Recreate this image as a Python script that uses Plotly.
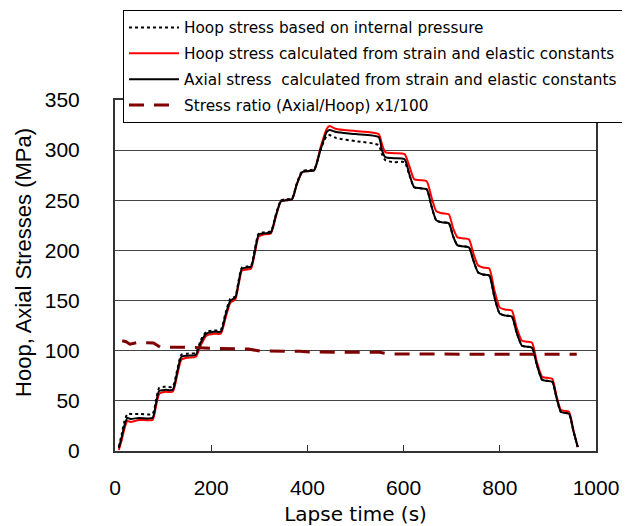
import plotly.graph_objects as go

# ---------------- data ----------------
time_s = [8, 14, 20, 26, 32, 50, 78,
          85, 92, 105, 120,
          129, 138, 150, 168,
          178, 190, 205, 220,
          230, 240, 250,
          257, 264, 275, 283,
          291, 299, 310, 324,
          334, 345, 355, 368,
          378, 389, 400, 414,
          427, 440, 446, 460, 500, 548,
          555, 562, 580, 602,
          612, 622, 635, 648,
          658, 668, 680, 694,
          703, 712, 725, 736,
          745, 755, 765, 778,
          789, 800, 812, 825,
          835, 846, 856, 867,
          877, 888, 898, 909,
          918, 927, 935, 944,
          953, 962]

hoop_pressure = [4, 17, 30, 37, 37, 37, 37,
                 50, 63, 64, 64,
                 80, 96, 97, 98,
                 110, 119, 120, 121,
                 138, 152, 154,
                 170, 183, 184, 185,
                 202, 217, 218, 219,
                 235, 250, 251, 252,
                 267, 279, 280, 281,
                 300, 314, 315, 312, 309, 305,
                 296, 290, 288, 288,
                 275, 263, 262, 261,
                 244, 230, 228, 227,
                 214, 205, 204, 203,
                 190, 178, 176, 175,
                 153, 137, 135, 134,
                 118, 105, 104, 103,
                 86, 71, 70, 69,
                 53, 39, 38, 37,
                 20, 4]

hoop_calc = [1, 11, 23, 30, 29, 31, 31,
             44, 57, 59, 59,
             75, 91, 93, 94,
             105, 115, 117, 117,
             133, 148, 151,
             166, 180, 181, 182,
             198, 214, 216, 217,
             233, 249, 250, 251,
             266, 278, 279, 280,
             302, 321, 324, 321, 319, 316,
             306, 298, 297, 296,
             284, 271, 270, 269,
             253, 239, 237, 236,
             222, 213, 212, 211,
             197, 185, 183, 182,
             160, 143, 141, 140,
             123, 110, 109, 108,
             89, 74, 73, 72,
             55, 41, 40, 39,
             21, 4]

axial_calc = [3, 14, 26, 33, 32, 33, 33,
              47, 60, 61, 61,
              78, 94, 95, 96,
              108, 117, 119, 119,
              136, 150, 153,
              168, 182, 183, 184,
              200, 216, 217, 218,
              234, 249, 250, 251,
              266, 278, 279, 280,
              300, 318, 320, 318, 316, 313,
              300, 293, 292, 291,
              276, 263, 262, 261,
              244, 230, 228, 227,
              214, 205, 204, 203,
              190, 178, 176, 175,
              153, 137, 135, 134,
              118, 105, 104, 103,
              86, 71, 70, 69,
              53, 39, 38, 37,
              20, 4]

ratio_time = [15, 23, 31, 45, 56, 80, 94, 129, 162, 197, 218, 249, 277, 301, 329,
              350, 385, 404, 439, 460, 495, 515, 550, 571, 599, 627, 654, 682, 710,
              738, 766, 793, 821, 848, 869, 904, 932, 960]
ratio_x100 = [110, 109, 106.5, 108, 108, 107.7, 103.5, 103.4, 103.4, 102.4, 102.4,
              101.7, 101.7, 99.7, 99.7, 99.4, 99.4, 98.7, 98.7, 98.4, 98.4, 98.4,
              98.4, 96.7, 96.7, 96.7, 96.7, 96.4, 96.4, 96.4, 96.4, 96.4, 96.4,
              96.4, 96.4, 96.7, 96.7, 96.4]

names = ["Hoop stress based on internal pressure",
         "Hoop stress calculated from strain and elastic constants",
         "Axial stress\u00a0 calculated from strain and elastic constants",
         "Stress ratio (Axial/Hoop) x1/100"]

x_ticks = [0, 200, 400, 600, 800, 1000]
y_ticks = [0, 50, 100, 150, 200, 250, 300, 350]
x_title = "Lapse time (s)"
y_title = "Hoop, Axial Stresses (MPa)"

FONT = "Arial, Liberation Sans, sans-serif"
JFONT = "DejaVu Sans, sans-serif"

fig = go.Figure()
fig.add_trace(go.Scatter(x=time_s, y=hoop_calc, mode="lines", name=names[1],
                         line=dict(color="#ff0000", width=2, shape="spline", smoothing=0.6),
                         legendrank=2, legendgroup="b"))
fig.add_trace(go.Scatter(x=time_s, y=axial_calc, mode="lines", name=names[2],
                         line=dict(color="#000000", width=2, shape="spline", smoothing=0.6),
                         legendrank=3, legendgroup="c"))
fig.add_trace(go.Scatter(x=time_s, y=hoop_pressure, mode="lines", name=names[0],
                         line=dict(color="#000000", width=2, dash="dot", shape="spline", smoothing=0.6),
                         legendrank=1, legendgroup="a"))
fig.add_trace(go.Scatter(x=ratio_time, y=ratio_x100, mode="lines", name=names[3],
                         line=dict(color="#800000", width=3, dash="15px,10px"),
                         legendrank=4, legendgroup="d"))

fig.update_layout(
    width=622, height=518,
    margin=dict(l=107, r=34, t=92, b=75, autoexpand=False),
    paper_bgcolor="white", plot_bgcolor="white",
    font=dict(family=FONT, color="black"),
    showlegend=True,
    legend=dict(x=0.0166, y=1.2564, xanchor="left", yanchor="top",
                bgcolor="white", bordercolor="black", borderwidth=1,
                font=dict(size=15.3, family=JFONT, color="black"),
                itemwidth=50,
                traceorder="grouped", tracegroupgap=3),
    xaxis=dict(range=[0, 1000], tickvals=x_ticks, ticks="inside", ticklen=6,
               tickcolor="#333", showgrid=False, zeroline=False,
               showline=True, linecolor="#333", linewidth=2, mirror=True,
               tickfont=dict(size=21), ticklabelstandoff=17,
               title=dict(text=x_title, font=dict(size=20, family=JFONT), standoff=9)),
    yaxis=dict(range=[0, 350], tickvals=y_ticks, ticks="", showgrid=True,
               gridcolor="#444", gridwidth=1, zeroline=False,
               showline=True, linecolor="#333", linewidth=2, mirror=True,
               tickfont=dict(size=21), ticklabelstandoff=29),
    annotations=[dict(text=y_title, textangle=-90, xref="paper", yref="paper",
                      x=-0.189, y=0.536, xanchor="center", yanchor="middle",
                      showarrow=False, font=dict(size=22, family=FONT))],
)

fig.write_html("out.html")
